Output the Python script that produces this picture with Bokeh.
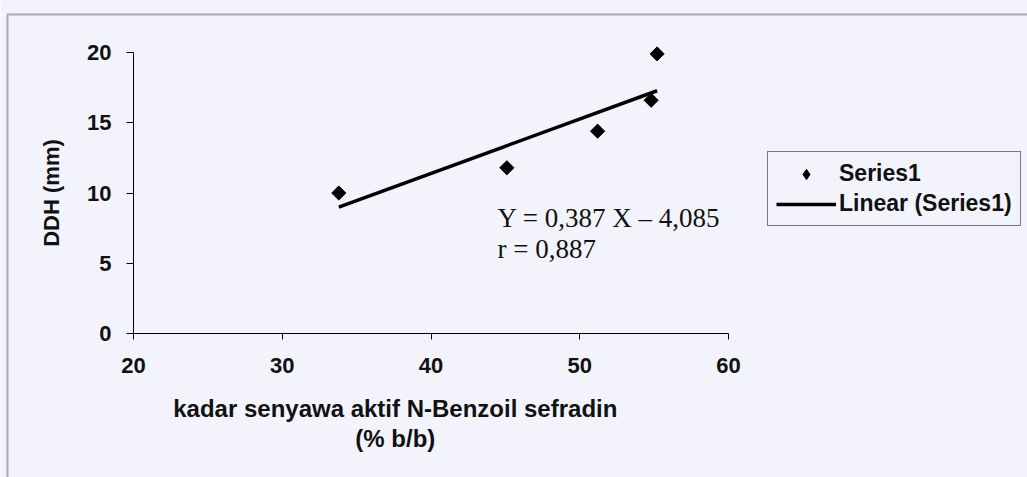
import math
from bokeh.plotting import figure
from bokeh.models import (Range1d, SingleIntervalTicker, Legend, LegendItem,
                          Label, BoxAnnotation)
from bokeh.embed import file_html
from bokeh.resources import INLINE

# ---- data ----
x_vals = [33.8, 45.1, 51.2, 54.8, 55.2]      # kadar senyawa aktif (% b/b)
y_vals = [10.0, 11.8, 14.4, 16.6, 19.9]      # DDH (mm)
slope = 0.387
intercept = -4.085
r_value = "0,887"
eq_text = "Y = 0,387 X \u2013 4,085"
r_text = "r = " + r_value
x_title = "kadar senyawa aktif N-Benzoil sefradin"
x_title2 = "(% b/b)"
y_title = "DDH (mm)"
series_name = "Series1"
trend_name = "Linear (Series1)"

# ---- layout ----
W, H = 1027, 477
X0, X1, PX0, PX1 = 20, 60, 133, 728     # x axis ends in canvas pixels
Y0, Y1, PY0, PY1 = 0, 20, 333, 52       # y axis ends in canvas pixels
sx = (PX1 - PX0) / (X1 - X0)
sy = (PY0 - PY1) / (Y1 - Y0)
x_start = X0 - PX0 / sx
x_end = X1 + (W - PX1) / sx
y_end = Y1 + PY1 / sy
y_start = Y0 - (H - PY0) / sy

BG = "#f3f4fb"
SANS = "Liberation Sans"
INK = "#111111"

p = figure(width=W, height=H, output_backend="svg", toolbar_location=None,
           x_range=Range1d(x_start, x_end), y_range=Range1d(y_start, y_end),
           min_border=0)
p.background_fill_color = BG
p.border_fill_color = BG
p.outline_line_color = None
p.grid.visible = False

# axes drawn at data positions inside the full-canvas frame
p.xaxis.fixed_location = Y0
p.yaxis.fixed_location = X0
p.xaxis.bounds = (X0, X1)
p.yaxis.bounds = (Y0, Y1)
p.xaxis.ticker = SingleIntervalTicker(interval=10)
p.yaxis.ticker = SingleIntervalTicker(interval=5)
for ax in (p.xaxis[0], p.yaxis[0]):
    ax.axis_line_color = "black"
    ax.axis_line_width = 1
    ax.major_tick_line_color = "black"
    ax.major_tick_in = 0
    ax.minor_tick_line_color = None
    ax.major_label_text_font = SANS
    ax.major_label_text_font_style = "bold"
    ax.major_label_text_font_size = "22px"
    ax.major_label_text_color = INK
p.xaxis.major_tick_out = 6
p.yaxis.major_tick_out = 7
p.xaxis.major_label_standoff = 18
p.yaxis.major_label_standoff = 15

p.yaxis.axis_label = y_title
p.yaxis.axis_label_text_font = SANS
p.yaxis.axis_label_text_font_style = "bold"
p.yaxis.axis_label_text_font_size = "22px"
p.yaxis.axis_label_text_color = INK
p.yaxis.axis_label_standoff = 20

# trend line
tx = [min(x_vals), max(x_vals)]
ty = [slope * v + intercept for v in tx]
trend = p.line(tx, ty, line_color="black", line_width=3.5)

# points (diamonds)
pts = p.scatter(x_vals, y_vals, marker="square", angle=math.pi / 4, size=10,
                fill_color="black", line_color="black")
# legend-only swatch for the points (nothing is drawn in the plot area)
pts_key = p.scatter(x=[math.nan], y=[math.nan], marker="diamond", size=14,
                    fill_color="black", line_color="black")

# equation text
for yy, t in ((8.2, eq_text), (6.0, r_text)):
    p.add_layout(Label(x=44.47, y=yy, text=t, text_font="Liberation Serif",
                       text_font_size="27px", text_color=INK,
                       text_align="left", text_baseline="middle"))

# x-axis title (two lines)
for yy, t in ((-5.35, x_title), (-7.45, x_title2)):
    p.add_layout(Label(x=37.6, y=yy, text=t, text_font=SANS,
                       text_font_style="bold", text_font_size="24px",
                       text_color=INK, text_align="center",
                       text_baseline="middle"))

# legend
legend = Legend(items=[LegendItem(label=series_name, renderers=[pts_key]),
                       LegendItem(label=trend_name, renderers=[trend])],
                location=(767, H - 226), orientation="vertical")
legend.border_line_color = "black"
legend.border_line_width = 1
legend.background_fill_color = BG
legend.background_fill_alpha = 1
legend.label_text_font = SANS
legend.label_text_font_style = "bold"
legend.label_text_font_size = "23px"
legend.label_text_color = INK
legend.glyph_width = 60
legend.glyph_height = 26
legend.label_height = 26
legend.spacing = 3
legend.padding = 8
legend.margin = 0
legend.label_standoff = 3
p.add_layout(legend, "center")

# outer chart-area border (top and left visible)
p.add_layout(BoxAnnotation(left=7, right=W + 50, top=14, bottom=H + 50,
                           left_units="canvas", right_units="canvas",
                           top_units="canvas", bottom_units="canvas",
                           fill_alpha=0, line_color="black", line_width=2))

open("out.html", "w").write(file_html(p, INLINE))
